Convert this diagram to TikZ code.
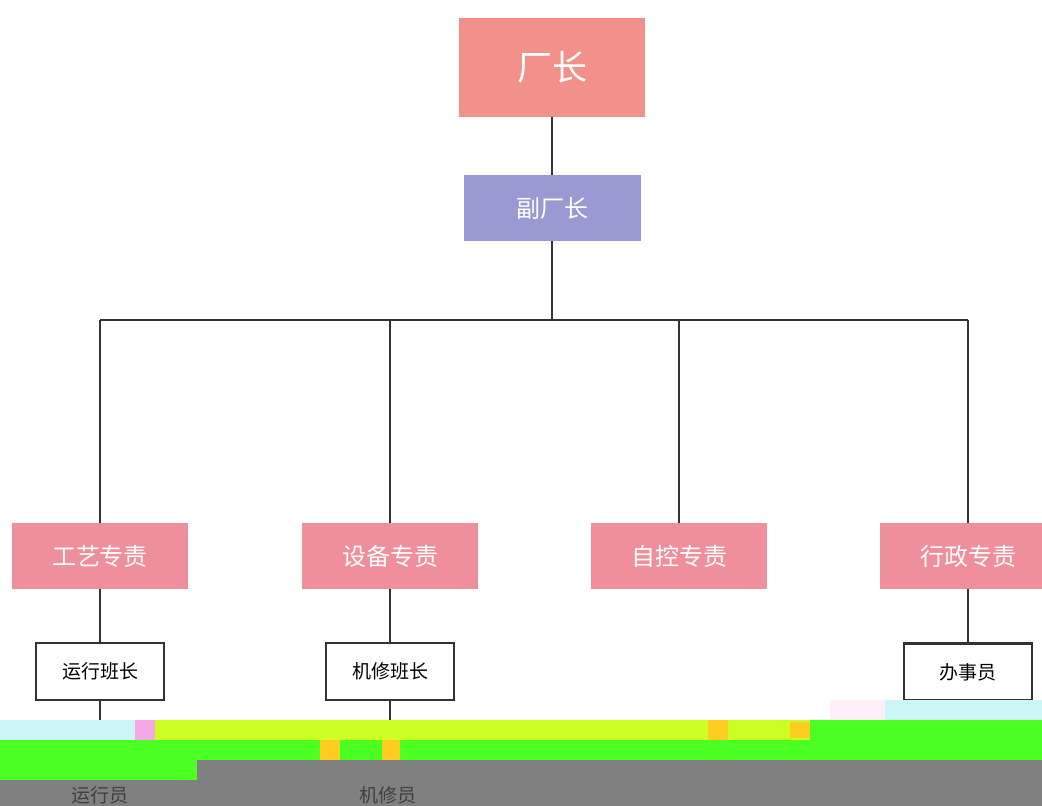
\documentclass[tikz,border=0pt]{standalone}
\usepackage{fontspec}
\setmainfont{Noto Sans CJK SC}
\begin{document}
\begin{tikzpicture}[x=1pt,y=-1pt,
  conn/.style={draw=black!80,line width=2.6pt},
  topbox/.style={fill=topcol,text=white,inner sep=0pt,font=\fontsize{35}{37}\selectfont},
  vicebox/.style={fill=vicecol,text=white,inner sep=0pt,font=\fontsize{24}{26}\selectfont},
  deptbox/.style={fill=deptcol,text=white,inner sep=0pt,minimum width=176pt,minimum height=66pt,font=\fontsize{24}{26}\selectfont},
  leafbox/.style={draw=black!80,line width=2.6pt,fill=white,inner sep=0pt,minimum width=128pt,minimum height=57pt,font=\fontsize{19}{21}\selectfont},
  lowtext/.style={text=black!75,font=\fontsize{19}{21}\selectfont}
]
\definecolor{topcol}{HTML}{F1918A}
\definecolor{vicecol}{HTML}{9A9AD2}
\definecolor{deptcol}{HTML}{EF8F9B}
\definecolor{bcyan}{HTML}{CCF6F6}
\definecolor{bpink}{HTML}{F5A8E8}
\definecolor{byg}{HTML}{CCFF22}
\definecolor{bgreen}{HTML}{4CFF22}
\definecolor{bgray}{HTML}{808080}
\definecolor{borange}{HTML}{FFCC22}
\definecolor{blpink}{HTML}{FFF0F8}
\fill[white] (0,0) rectangle (1042,806);
\useasboundingbox (0,0) rectangle (1042,806);

\node[topbox,minimum width=186pt,minimum height=99pt] (top) at (552,67.5) {厂长};
\node[vicebox,minimum width=177pt,minimum height=66pt] (vice) at (552,208) {副厂长};

\node[deptbox] (d1) at (100,556) {工艺专责};
\node[deptbox] (d2) at (390,556) {设备专责};
\node[deptbox] (d3) at (679,556) {自控专责};
\node[deptbox] (d4) at (968,556) {行政专责};

\node[leafbox] (l1) at (100,671.5) {运行班长};
\node[leafbox] (l2) at (390,671.5) {机修班长};
\node[leafbox] (l4) at (968,672) {办事员};

\coordinate (bus) at (552,320);
\coordinate (e1) at (100,720);
\coordinate (e2) at (390,720);

\draw[conn] (top.south) -- (vice.north);
\draw[conn] (vice.south) -- (bus);
\draw[conn] (d1.north |- bus) -- (bus -| d4.north);
\foreach \d in {d1,d2,d3,d4} \draw[conn] (\d.north |- bus) -- (\d.north);
\draw[conn] (d1.south) -- (l1.north);
\draw[conn] (d2.south) -- (l2.north);
\draw[conn] (d4.south) -- (l4.north);
\draw[conn] (l1.south) -- (e1);
\draw[conn] (l2.south) -- (e2);

% corrupted bands at the bottom of the reference
\fill[blpink] (830,700) rectangle (885,720);
\fill[bcyan] (885,700) rectangle (1042,720);
\fill[bcyan] (0,720) rectangle (135,740);
\fill[bpink] (135,720) rectangle (155,740);
\fill[byg] (155,720) rectangle (810,740);
\fill[bgreen] (810,720) rectangle (1042,740);
\fill[bgreen] (0,740) rectangle (1042,760);
\fill[bgreen] (0,760) rectangle (197,780);
\fill[bgray] (197,760) rectangle (1042,806);
\fill[bgray] (0,780) rectangle (197,806);
\fill[borange] (320,740) rectangle (340,760);
\fill[borange] (382,740) rectangle (400,760);
\fill[borange] (708,720) rectangle (728,740);
\fill[borange] (790,722) rectangle (810,738);

\node[lowtext] (r1) at (100,795) {运行员};
\node[lowtext] (r2) at (388,795) {机修员};
\end{tikzpicture}
\end{document}
